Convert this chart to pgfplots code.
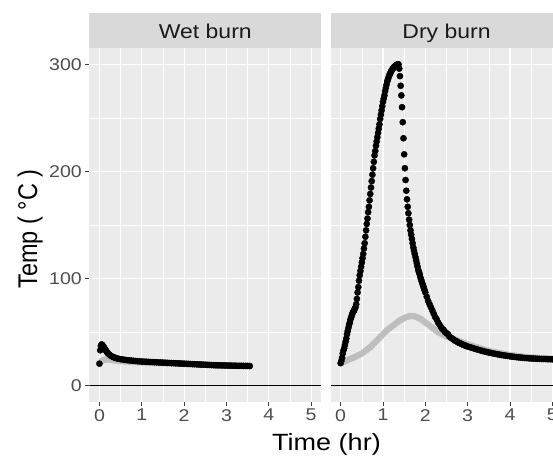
\documentclass[border=0pt]{standalone}
\usepackage{fontspec}
\setmainfont{Liberation Sans}
\newfontfamily\wsans[FakeStretch=1.15]{Liberation Sans}
\usepackage{pgfplots}
\usepackage{pgfplotstable}
\pgfplotsset{compat=1.18}

\definecolor{panelbg}{RGB}{235,235,235}
\definecolor{stripbg}{RGB}{217,217,217}
\definecolor{striptext}{RGB}{26,26,26}
\definecolor{labelgray}{RGB}{77,77,77}
\definecolor{tickgray}{RGB}{60,60,60}
\definecolor{dotgray}{RGB}{190,190,190}

% Dry burn, sensor 1 (black): minutes since ignition, temperature (deg C)
\pgfplotstableread{
m temp
0 21
1 23
2 26
3 30
4 33
5 35
6 38
7 41
8 44
9 48
10 51
11 54
12 57
13 59
14 62
15 64
16 66
17 68
18 69
19 70
20 72
21 73
22 76
23 81
24 87
25 92
26 98
27 103
28 107
29 111
30 115
31 119
32 123
33 128
34 133
35 139
36 145
37 151
38 156
39 162
40 167
41 173
42 179
43 185
44 191
45 197
46 203
47 209
48 215
49 219
50 224
51 228
52 232
53 236
54 240
55 244
56 249
57 253
58 257
59 261
60 265
61 268
62 271
63 275
64 278
65 281
66 284
67 286
68 288
69 290
70 291
71 293
72 294
73 295
74 296
75 297
76 298
77 298
78 299
79 299
80 300
81 300
82 300
83 296
84 289
85 280
86 271
87 260
88 246
89 231
90 216
91 203
92 192
93 182
94 174
95 167
96 161
97 155
98 150
99 145
100 141
101 137
102 133
103 129
104 126
105 123
106 120
107 117
108 114
109 111
110 108
111 106
112 104
113 101
114 99
115 97
116 95
117 93
118 91
119 89
120 87
122 83
124 79
126 76
128 73
130 70
132 67
134 64
136 62
138 59
140 57
142 55
144 53
146 52
148 50
150 49
152 48
154 46
156 45
158 44
160 43
162 42
164 41.5
166 40.5
168 40
170 39.3
172 38.7
174 38
176 37.5
178 37
180 36.5
183 36.0
186 35.3
189 34.7
192 34.1
195 33.5
198 32.9
201 32.4
204 31.9
207 31.4
210 30.9
213 30.5
216 30.1
219 29.7
222 29.3
225 29.0
228 28.6
231 28.3
234 28.0
237 27.7
240 27.4
243 27.1
246 26.9
249 26.6
252 26.4
255 26.2
258 26.0
261 25.8
264 25.7
267 25.5
270 25.4
273 25.3
276 25.2
279 25.1
282 25.0
285 24.9
288 24.9
291 24.8
294 24.7
297 24.7
300 24.6
303 24.5
306 24.5
309 24.4
312 24.4
}\drymain

% Dry burn, sensor 2 (grey): hours, temperature (deg C)
\pgfplotstableread{
t temp
0.00 21
0.05 21.7
0.10 22.5
0.15 23.5
0.20 24.5
0.25 25.3
0.30 26
0.35 27
0.40 28
0.45 29
0.50 30
0.55 31.5
0.60 33
0.65 34.5
0.70 36
0.75 38
0.80 40
0.85 42
0.90 44
0.95 46
1.00 48
1.05 50
1.10 52
1.15 53.5
1.20 55
1.25 56.5
1.30 58
1.35 59.5
1.40 61
1.45 62
1.50 63
1.55 64
1.60 64.5
1.65 65
1.70 65
1.75 64.7
1.80 64
1.85 63
1.90 62
1.95 60.5
2.00 59
2.05 57.5
2.10 56
2.15 54.5
2.20 53
2.25 51.5
2.30 50
2.35 49
2.40 48
2.45 47
2.50 46
2.55 45.2
2.60 44.5
2.65 43.7
2.70 43
2.75 42.2
2.80 41.5
2.85 40.7
2.90 40
2.95 39.2
3.00 38.5
3.05 37.9
3.10 37.3
3.15 36.6
3.20 36
3.25 35.4
3.30 34.7
3.35 34.1
3.40 33.5
3.45 33
3.50 32.5
3.55 32
3.60 31.5
3.65 31.1
3.70 30.7
3.75 30.3
3.80 30
3.85 29.6
3.90 29.2
3.95 28.9
4.00 28.5
4.05 28.2
4.10 28
4.15 27.7
4.20 27.5
4.25 27.2
4.30 27
4.35 26.7
4.40 26.5
4.45 26.4
4.50 26.2
4.55 26.1
4.60 26
4.65 25.9
4.70 25.7
4.75 25.6
4.80 25.5
4.85 25.4
4.90 25.2
4.95 25.1
5.00 25
5.05 24.9
5.10 24.7
5.15 24.6
5.20 24.5
}\drysecond

% Wet burn, sensor 1 (black): hours, temperature (deg C)
\pgfplotstableread{
t temp
0.000 20.5
0.017 33
0.033 37
0.050 38.5
0.067 38
0.083 37
0.100 36
0.117 35
0.133 34
0.150 33
0.167 32
0.183 31
0.200 30.3
0.233 29
0.267 28
0.300 27.2
0.333 26.6
0.367 26
0.400 25.6
0.45 25.1
0.50 24.7
0.55 24.4
0.60 24.1
0.65 23.8
0.70 23.6
0.75 23.4
0.80 23.2
0.85 23.0
0.90 22.8
0.95 22.7
1.00 22.5
1.05 22.4
1.10 22.3
1.15 22.2
1.20 22.1
1.25 22.0
1.30 21.9
1.35 21.8
1.40 21.7
1.45 21.6
1.50 21.5
1.55 21.4
1.60 21.3
1.65 21.2
1.70 21.1
1.75 21.0
1.80 20.9
1.85 20.8
1.90 20.7
1.95 20.6
2.00 20.5
2.05 20.4
2.10 20.3
2.15 20.2
2.20 20.1
2.25 20.0
2.30 19.9
2.35 19.8
2.40 19.7
2.45 19.6
2.50 19.5
2.55 19.4
2.60 19.3
2.65 19.2
2.70 19.1
2.75 19.0
2.80 19.0
2.85 18.9
2.90 18.9
2.95 18.8
3.00 18.8
3.05 18.7
3.10 18.7
3.15 18.6
3.20 18.6
3.25 18.5
3.30 18.5
3.35 18.5
3.40 18.4
3.45 18.4
3.50 18.4
3.55 18.3
}\wetmain

% Wet burn, sensor 2 (grey): hours, temperature (deg C)
\pgfplotstableread{
t temp
0.00 21
0.05 23
0.10 24
0.15 24.5
0.20 24.5
0.25 24.3
0.30 24
0.35 23.7
0.40 23.4
0.45 23.1
0.50 22.8
0.60 22.5
0.70 22.2
0.80 22.0
0.90 21.8
1.00 21.6
1.10 21.4
1.20 21.2
1.30 21.1
1.40 21.0
1.50 20.8
1.60 20.7
1.70 20.6
1.80 20.5
1.90 20.3
2.00 20.2
2.10 20.1
2.20 20.0
2.30 19.9
2.40 19.8
2.50 19.6
2.60 19.5
2.70 19.4
2.80 19.3
2.90 19.2
3.00 19.1
3.10 19.0
3.20 18.9
3.30 18.8
3.40 18.7
3.50 18.6
3.55 18.5
}\wetsecond

\pgfplotsset{
  panel/.style={
    scale only axis,
    width=232bp, height=353.4bp,
    anchor=south west,
    xmin=-0.24, xmax=5.24,
    ymin=-15, ymax=315,
    xtick={0,1,2,3,4,5},
    ytick={0,100,200,300},
    minor xtick={0.5,1.5,2.5,3.5,4.5},
    minor ytick={50,150,250},
    grid=both,
    major grid style={white, line width=1.2bp},
    minor grid style={white, line width=0.6bp},
    axis background/.style={fill=panelbg},
    axis line style={draw=none},
    tick pos=left,
    tick align=outside,
    major tick length=4bp,
    minor tick length=0bp,
    tick style={tickgray, line width=0.9bp},
    tick label style={font=\wsans\fontsize{17bp}{19bp}\selectfont, text=labelgray},
    /pgf/number format/assume math mode=true,
  },
  blackdots/.style={only marks, mark=*, mark size=3.1bp, black},
  greydots/.style={only marks, mark=*, mark size=3.1bp, dotgray, mark options={draw=dotgray, fill=dotgray}},
}

\begin{document}
\begin{tikzpicture}
% overall frame of the figure
\path (0bp,0bp) rectangle (553bp,457bp);

% Wet burn panel
\begin{axis}[panel, at={(89.3bp,55.3bp)}]
  \addplot[greydots] table[x=t, y=temp] {\wetsecond};
  \addplot[blackdots] table[x=t, y=temp] {\wetmain};
  \addplot[black, line width=1.2bp, mark=none] coordinates {(-0.24,0) (5.24,0)};
\end{axis}

% Dry burn panel, cut at the right edge of the figure
\begin{scope}
\clip (0bp,0bp) rectangle (553bp,457bp);
\begin{axis}[panel, overlay, at={(330.5bp,55.3bp)}, yticklabels={}, ytick style={draw=none}]
  \addplot[greydots] table[x=t, y=temp] {\drysecond};
  \addplot[blackdots] table[x expr=\thisrow{m}/60, y=temp] {\drymain};
  \addplot[black, line width=1.2bp, mark=none] coordinates {(-0.24,0) (5.24,0)};
\end{axis}
\end{scope}

% Facet strips
\fill[stripbg] (89.3bp,408.7bp) rectangle (321.3bp,443.7bp);
\fill[stripbg] (330.5bp,408.7bp) rectangle (553bp,443.7bp);
\node[anchor=base, text=striptext, font=\wsans\fontsize{20bp}{22bp}\selectfont] at (205.3bp,418bp) {Wet burn};
\node[anchor=base, text=striptext, font=\wsans\fontsize{20bp}{22bp}\selectfont] at (446.5bp,418bp) {Dry burn};

% Axis titles
\node[anchor=base, text=black, font=\wsans\fontsize{23.5bp}{25bp}\selectfont] at (326.5bp,7bp) {Time (hr)};
\node[anchor=base, rotate=90, text=black, font=\fontsize{23.5bp}{25bp}\selectfont] at (37bp,228bp) {\scalebox{1}[1.15]{Temp ( °C )}};
\end{tikzpicture}
\end{document}
